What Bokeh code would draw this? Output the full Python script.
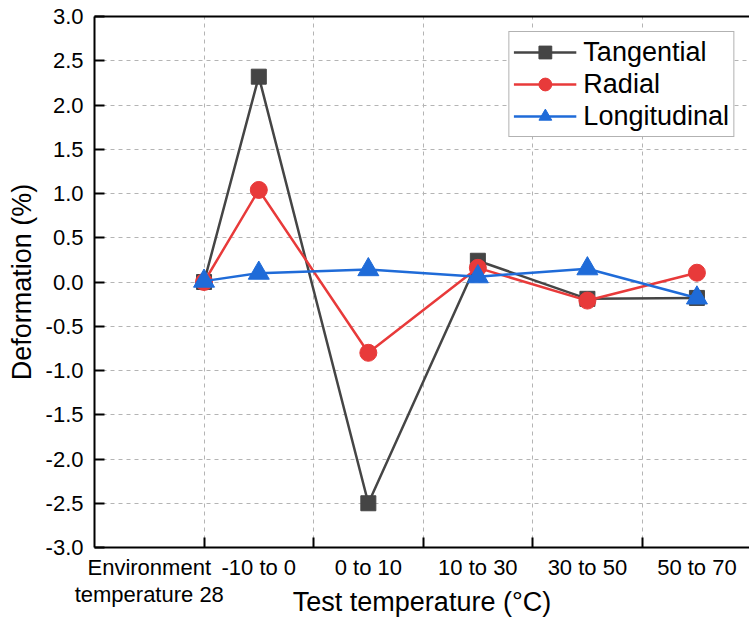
from bokeh.plotting import figure
from bokeh.models import Range1d, FixedTicker, LinearAxis, NumeralTickFormatter
from bokeh.embed import file_html
from bokeh.resources import INLINE

# ---- data ----
categories = ["Environment\ntemperature 28", "-10 to 0", "0 to 10", "10 to 30", "30 to 50", "50 to 70"]
x_pos = [1.0, 1.5, 2.5, 3.5, 4.5, 5.5]          # where the points sit on the x axis
label_pos = [0.5, 1.5, 2.5, 3.5, 4.5, 5.5]      # where the category labels sit
grid_x = [1, 2, 3, 4, 5]
tangential = [0.0, 2.32, -2.50, 0.24, -0.19, -0.18]
radial = [0.0, 1.04, -0.80, 0.16, -0.21, 0.105]
longitudinal = [0.01, 0.10, 0.14, 0.06, 0.15, -0.18]
y_ticks = [-3.0, -2.5, -2.0, -1.5, -1.0, -0.5, 0.0, 0.5, 1.0, 1.5, 2.0, 2.5, 3.0]

FONT = "Liberation Sans"
C_T = "#454545"
C_R = "#e83a3a"
C_L = "#1f6bd8"

p = figure(width=749, height=621, output_backend="svg", toolbar_location=None,
           x_range=Range1d(0, 5.98), y_range=Range1d(-3, 3),
           min_border_left=94, min_border_right=0, min_border_top=16, min_border_bottom=74)
p.outline_line_color = None
p.background_fill_color = "white"
p.border_fill_color = "white"

# x axis
xa = p.xaxis[0]
xa.ticker = FixedTicker(ticks=label_pos, minor_ticks=grid_x)
xa.major_label_overrides = {lp: c for lp, c in zip(label_pos, categories)}
xa.major_tick_in = 0
xa.major_tick_out = 0
xa.minor_tick_in = 10
xa.minor_tick_out = 0
xa.minor_tick_line_width = 2
xa.minor_tick_line_color = "black"
xa.axis_line_width = 2
xa.axis_line_color = "black"
xa.major_label_text_font = FONT
xa.major_label_text_font_size = "22px"
xa.major_label_text_line_height = 1.1
xa.major_label_text_color = "black"
xa.major_label_standoff = 7
xa.axis_label = "Test temperature (\u00b0C)"
xa.axis_label_text_font = FONT
xa.axis_label_text_font_size = "27px"
xa.axis_label_text_font_style = "normal"
xa.axis_label_text_color = "black"
xa.axis_label_standoff = -23

# y axis
ya = p.yaxis[0]
ya.ticker = FixedTicker(ticks=y_ticks, minor_ticks=[])
ya.formatter = NumeralTickFormatter(format="0.0")
ya.major_tick_in = 10
ya.major_tick_out = 0
ya.major_tick_line_width = 2
ya.major_tick_line_color = "black"
ya.axis_line_width = 2
ya.axis_line_color = "black"
ya.major_label_text_font = FONT
ya.major_label_text_font_size = "22px"
ya.major_label_text_color = "black"
ya.major_label_standoff = 11
ya.axis_label = "Deformation (%)"
ya.axis_label_text_font = FONT
ya.axis_label_text_font_size = "27px"
ya.axis_label_text_font_style = "normal"
ya.axis_label_text_color = "black"
ya.axis_label_standoff = 6

# top spine
top = LinearAxis(ticker=FixedTicker(ticks=[]), major_label_text_font_size="0px",
                 major_tick_in=0, major_tick_out=0, minor_tick_in=0, minor_tick_out=0,
                 major_label_standoff=0, axis_line_width=2, axis_line_color="black")
p.add_layout(top, "above")

# grids
p.xgrid.grid_line_color = None
p.xgrid.minor_grid_line_color = "#b4b4b4"
p.xgrid.minor_grid_line_dash = "4 4"
p.xgrid.minor_grid_line_width = 1
p.ygrid.grid_line_color = "#b4b4b4"
p.ygrid.grid_line_dash = "4 4"
p.ygrid.grid_line_width = 1

# series
series = [("Tangential", tangential, C_T, "square", 15),
          ("Radial", radial, C_R, "circle", 17),
          ("Longitudinal", longitudinal, C_L, "triangle", 21)]
for name, vals, col, mk, sz in series:
    p.line(x_pos, vals, line_color=col, line_width=2.5, legend_label=name)
    p.scatter(x_pos, vals, marker=mk, size=sz, fill_color=col, line_color=col, legend_label=name)

lg = p.legend[0]
lg.location = "top_right"
lg.margin = 15
lg.padding = 4
lg.spacing = 0
lg.glyph_width = 63
lg.glyph_height = 32
lg.label_height = 32
lg.label_standoff = 7
lg.label_text_font = FONT
lg.label_text_font_size = "27px"
lg.label_text_color = "black"
lg.border_line_color = "#666666"
lg.border_line_width = 1
lg.background_fill_color = "white"
lg.background_fill_alpha = 1.0

open("out.html", "w").write(file_html(p, INLINE))
